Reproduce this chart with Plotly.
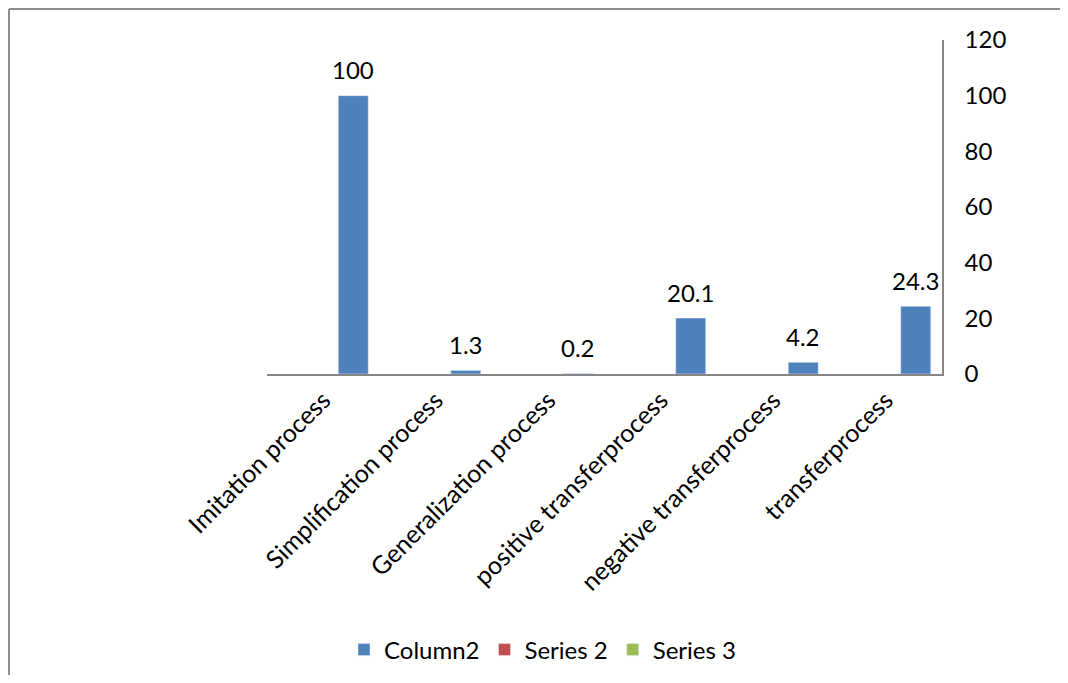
import plotly.graph_objects as go

categories = ["Imitation process", "Simplification process", "Generalization process",
              "positive transferprocess", "negative transferprocess", "transferprocess"]
column2 = [100, 1.3, 0.2, 20.1, 4.2, 24.3]
series2 = [None] * 6
series3 = [None] * 6
y_ticks = [0, 20, 40, 60, 80, 100, 120]

# page has an 8px body margin on every side; keep the figure inside the window
OFF = 8
W, H = 1068 - 2 * OFF, 683 - 2 * OFF
# plot area in page pixels: x 267..942, y 40..374
L, T = 267 - OFF, 40 - OFF
R = W - (942 - OFF)
B = H - (374 - OFF)
pw, ph = W - L - R, H - T - B

FONT = "Lato"
FS = 24
fig = go.Figure()
fig.add_trace(go.Bar(x=categories, y=series2, name="Series 2", marker_color="#C0504D", legendrank=2))
fig.add_trace(go.Bar(x=categories, y=series3, name="Series 3", marker_color="#9BBB59", legendrank=3))
fig.add_trace(go.Bar(x=categories, y=column2, name="Column2", marker_color="#4F81BD", legendrank=1))

slot = pw / len(categories)
bar_shift = slot * (0.8 / 3)  # third bar of a three-bar group
for c, v in zip(categories, column2):
    fig.add_annotation(x=c, y=v, text=f"{v:g}", showarrow=False, xshift=bar_shift,
                       yshift=26, yanchor="middle", font=dict(family=FONT, size=FS, color="black"))

def px_x(p):
    return (p - OFF - L) / pw

def px_y(p):
    return (T + ph + OFF - p) / ph

border = "#8c8c8c"
fig.add_shape(type="line", xref="paper", yref="paper", x0=px_x(9), x1=px_x(9), y0=px_y(700), y1=px_y(9),
              line=dict(color=border, width=2))
fig.add_shape(type="line", xref="paper", yref="paper", x0=px_x(9), x1=px_x(1080), y0=px_y(9), y1=px_y(9),
              line=dict(color=border, width=2))

fig.update_layout(
    width=W, height=H,
    margin=dict(l=L, r=R, t=T, b=B, autoexpand=False),
    paper_bgcolor="white", plot_bgcolor="white",
    barmode="group", bargap=0.2, bargroupgap=0,
    font=dict(family=FONT, size=FS, color="black"),
    showlegend=True,
    legend=dict(orientation="h", x=px_x(344), y=px_y(650), xanchor="left", yanchor="middle",
                font=dict(family=FONT, size=FS, color="black"), traceorder="normal"),
    xaxis=dict(showline=True, linecolor="#868686", linewidth=1.5, ticks="", tickangle=-45,
               showgrid=False, automargin=False, tickfont=dict(family=FONT, size=FS + 1, color="black")),
    yaxis=dict(side="right", range=[0, 120], tickvals=y_ticks, showline=True, linecolor="#868686",
               linewidth=1.5, showgrid=False, zeroline=False, ticks="", ticklabelstandoff=16,
               automargin=False, tickfont=dict(family=FONT, size=FS, color="black")),
)

fig.write_html("out.html", config={"displayModeBar": False})
